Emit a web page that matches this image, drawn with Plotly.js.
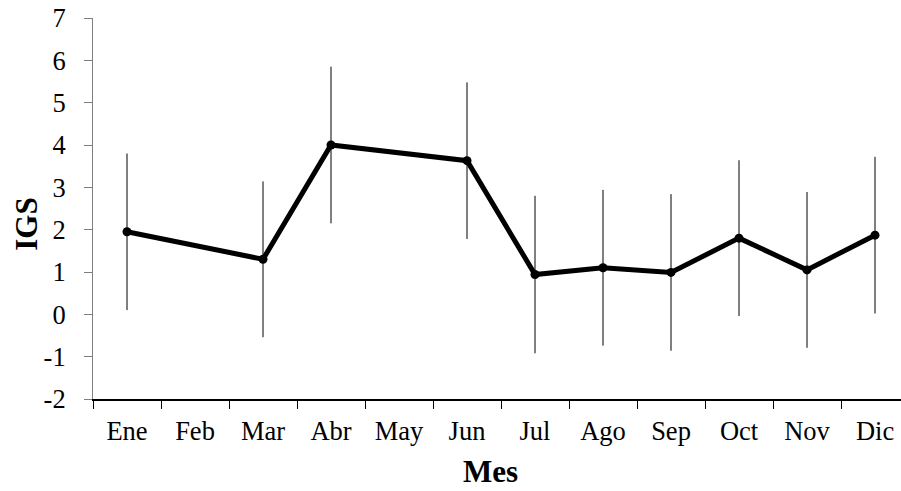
<!DOCTYPE html>
<html>
<head>
<meta charset="utf-8">
<script src="https://cdn.plot.ly/plotly-3.0.1.min.js"></script>
<style>
html, body { margin: 0; padding: 0; overflow: hidden; background: #fff; }
#chart { width: 910px; height: 491px; }
</style>
</head>
<body>
<div id="chart"></div>
<script>
const months = ['Ene','Feb','Mar','Abr','May','Jun','Jul','Ago','Sep','Oct','Nov','Dic'];
const sampledMonths = ['Ene','Mar','Abr','Jun','Jul','Ago','Sep','Oct','Nov','Dic'];
const igs = [1.95, 1.30, 4.00, 3.63, 0.94, 1.10, 0.99, 1.80, 1.05, 1.87];
const igsError = [1.85, 1.84, 1.85, 1.85, 1.86, 1.84, 1.85, 1.84, 1.84, 1.85];
const yTicks = [-2, -1, 0, 1, 2, 3, 4, 5, 6, 7];

const font = 'Liberation Serif, Times New Roman, serif';

const trace = {
  x: sampledMonths,
  y: igs,
  type: 'scatter',
  mode: 'lines+markers',
  line: { color: '#000', width: 5 },
  marker: { color: '#000', size: 9 },
  error_y: { type: 'data', array: igsError, visible: true, color: '#000', thickness: 1, width: 0 },
  hoverinfo: 'x+y'
};

const layout = {
  width: 910,
  height: 491,
  margin: { l: 93, r: 1, t: 18, b: 92 },
  paper_bgcolor: '#fff',
  plot_bgcolor: '#fff',
  showlegend: false,
  font: { family: font, color: '#000', size: 26.5 },
  xaxis: {
    type: 'category',
    categoryorder: 'array',
    categoryarray: months,
    range: [-0.5, 11.5],
    tickson: 'boundaries',
    ticks: 'outside',
    ticklen: 8,
    tickcolor: '#000',
    tickwidth: 1,
    ticklabelstandoff: 8,
    showline: true,
    linecolor: '#000',
    linewidth: 1.5,
    showgrid: false,
    zeroline: false,
    tickfont: { family: font, size: 26.5, color: '#000' },
    fixedrange: true
  },
  yaxis: {
    range: [-2, 7],
    tickvals: yTicks,
    ticktext: yTicks.map(String),
    ticks: 'outside',
    ticklen: 8,
    tickcolor: '#808080',
    tickwidth: 1,
    ticklabelstandoff: 13,
    showline: true,
    linecolor: '#808080',
    linewidth: 1,
    showgrid: false,
    zeroline: false,
    tickfont: { family: font, size: 26.5, color: '#000' },
    fixedrange: true
  },
  annotations: [
    {
      text: '<b>IGS</b>', xref: 'paper', yref: 'paper',
      x: -0.0825, y: 0.459, xanchor: 'center', yanchor: 'middle',
      textangle: -90, showarrow: false,
      font: { family: font, size: 31, color: '#000' }
    },
    {
      text: '<b>Mes</b>', xref: 'paper', yref: 'paper',
      x: 0.487, y: -0.189, xanchor: 'center', yanchor: 'middle',
      showarrow: false,
      font: { family: font, size: 31, color: '#000' }
    }
  ]
};

Plotly.newPlot('chart', [trace], layout, { displayModeBar: false, staticPlot: true });
</script>
</body>
</html>
